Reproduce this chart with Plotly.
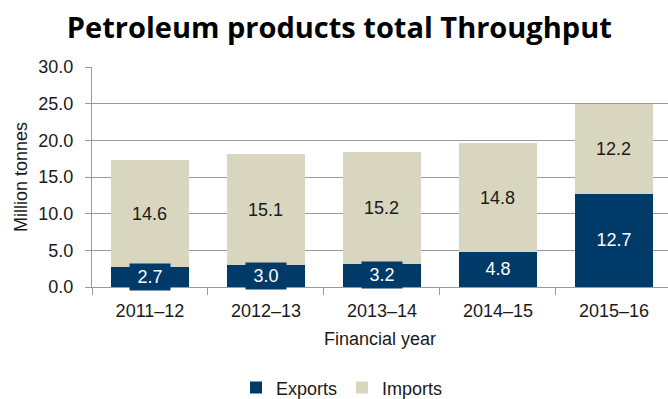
import plotly.graph_objects as go

years = ["2011–12", "2012–13", "2013–14", "2014–15", "2015–16"]
exports = [2.7, 3.0, 3.2, 4.8, 12.7]
imports = [14.6, 15.1, 15.2, 14.8, 12.2]

NAVY = "#003A68"
BEIGE = "#D8D6BE"
GRID = "#999999"
FONT = "Arial, Liberation Sans, sans-serif"

fig = go.Figure()
fig.add_bar(x=years, y=exports, name="Exports", marker_color=NAVY,
            marker_line_width=0, hoverinfo="skip")
fig.add_bar(x=years, y=imports, name="Imports", marker_color=BEIGE,
            marker_line_width=0, hoverinfo="skip")

# value labels: exports sit on a navy box, imports are plain
for yr, e, i in zip(years, exports, imports):
    fig.add_annotation(x=yr, y=e / 2, text=f"{e:.1f}", showarrow=False,
                       font=dict(family=FONT, size=18, color="#FFFFFF"),
                       bgcolor=NAVY, borderpad=3, width=34)
    fig.add_annotation(x=yr, y=e + i / 2, text=f"{i:.1f}", showarrow=False,
                       font=dict(family=FONT, size=18, color="#1A1A1A"))

fig.update_layout(
    barmode="stack",
    bargap=0.335,
    width=668, height=399,
    margin=dict(l=92, r=0, t=67, b=112),
    paper_bgcolor="white", plot_bgcolor="white",
    font=dict(family=FONT, size=18, color="#1A1A1A"),
    title=dict(text="<b>Petroleum products total Throughput</b>",
               font=dict(family="Open Sans, sans-serif", size=29, color="#000000"),
               x=0.508, xanchor="center", xref="container",
               y=0.93, yanchor="middle", yref="container"),
    legend=dict(orientation="h", x=0.512, xanchor="center", xref="container",
                y=0.028, yanchor="middle", yref="container",
                font=dict(family=FONT, size=18), itemwidth=30,
                traceorder="normal"),
    xaxis=dict(range=[-0.5, 4.466], showline=True, linecolor=GRID,
               linewidth=1, ticks="outside", tickson="boundaries",
               ticklen=7, tickcolor=GRID, ticklabelstandoff=7,
               tickfont=dict(family=FONT, size=18),
               title=dict(text="Financial year", standoff=12,
                          font=dict(family=FONT, size=18))),
    yaxis=dict(range=[0, 30], dtick=5, tickformat=".1f",
               showline=True, linecolor=GRID, linewidth=1,
               ticks="outside", ticklen=6, tickcolor=GRID,
               ticklabelstandoff=8,
               gridcolor=GRID, gridwidth=1, zeroline=False,
               tickfont=dict(family=FONT, size=18),
               title=dict(text="Million tonnes", standoff=6,
                          font=dict(family=FONT, size=18))),
)

fig.write_html("out.html")
